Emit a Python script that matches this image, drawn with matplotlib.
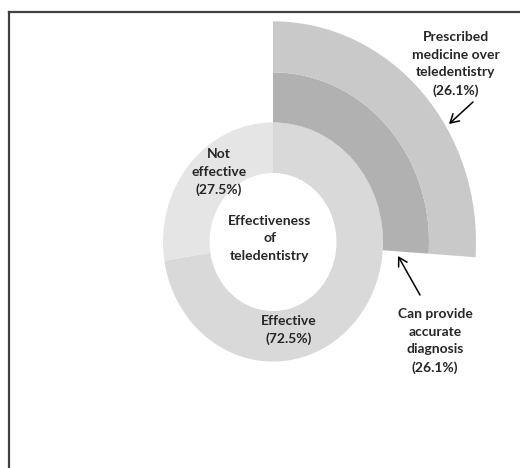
import matplotlib
matplotlib.use('Agg')
import matplotlib.pyplot as plt
from matplotlib.lines import Line2D

# 데이터
inner_labels = ['Effective', 'Not\neffective']
inner_values = [72.5, 27.5]
inner_colors = ['#d9d9d9', '#e5e5e5']

diag_label = 'Can provide\naccurate\ndiagnosis'
diag_value = 26.1
presc_label = 'Prescribed\nmedicine over\nteledentistry'
presc_value = 26.1

center_title = 'Effectiveness\nof\nteledentistry'

W, H = 520, 468
SY = 1.087  # 원본 그림이 세로로 약간 늘어나 있음


def px(x, y):
    # 픽셀 좌표 -> 데이터 좌표
    return (x, (H - y) / SY)


plt.rcParams['font.family'] = ['Lato', 'DejaVu Sans']
fig = plt.figure(figsize=(W / 100, H / 100), dpi=100)
ax = fig.add_axes([0, 0, 1, 1])

c = px(273, 242)
common = dict(startangle=90, counterclock=False, center=c, frame=True)

ax.pie(inner_values, radius=110, colors=inner_colors,
       wedgeprops=dict(width=46.5, linewidth=0), **common)
ax.pie([diag_value, 100 - diag_value], radius=156, colors=['#b1b1b1', 'none'],
       wedgeprops=dict(width=46, linewidth=0), **common)
ax.pie([presc_value, 100 - presc_value], radius=203, colors=['#c9c9c9', 'none'],
       wedgeprops=dict(width=47, linewidth=0), **common)

ax.set_xlim(0, W)
ax.set_ylim(0, H / SY)
ax.set_aspect('auto')
ax.axis('off')

tk = dict(ha='center', va='center', fontsize=10, fontweight='bold',
          color='#262626', linespacing=1.55)
ax.text(*px(270, 238), center_title, **tk)
ax.text(*px(219, 172), f'{inner_labels[1]}\n({inner_values[1]}%)', **tk)
ax.text(*px(289, 330), f'{inner_labels[0]}\n({inner_values[0]}%)', **tk)
ax.text(*px(456, 64), f'{presc_label}\n({presc_value}%)', **tk)
ax.text(*px(435, 341), f'{diag_label}\n({diag_value}%)', **tk)

arr = dict(arrowstyle='->,head_length=0.6,head_width=0.35', color='black',
           lw=1.1, shrinkA=0, shrinkB=0)
ax.annotate('', xy=px(449, 124), xytext=px(473, 102), arrowprops=arr)
ax.annotate('', xy=px(398, 256), xytext=px(420, 295), arrowprops=arr)

# 차트 테두리
fx, fy = 9 / W, 1 - 12 / H
fig.add_artist(Line2D([fx, fx], [0, fy], color='#404040', lw=1.6))
fig.add_artist(Line2D([fx, 1], [fy, fy], color='#404040', lw=1.6))

fig.savefig('out.png', dpi=100)
